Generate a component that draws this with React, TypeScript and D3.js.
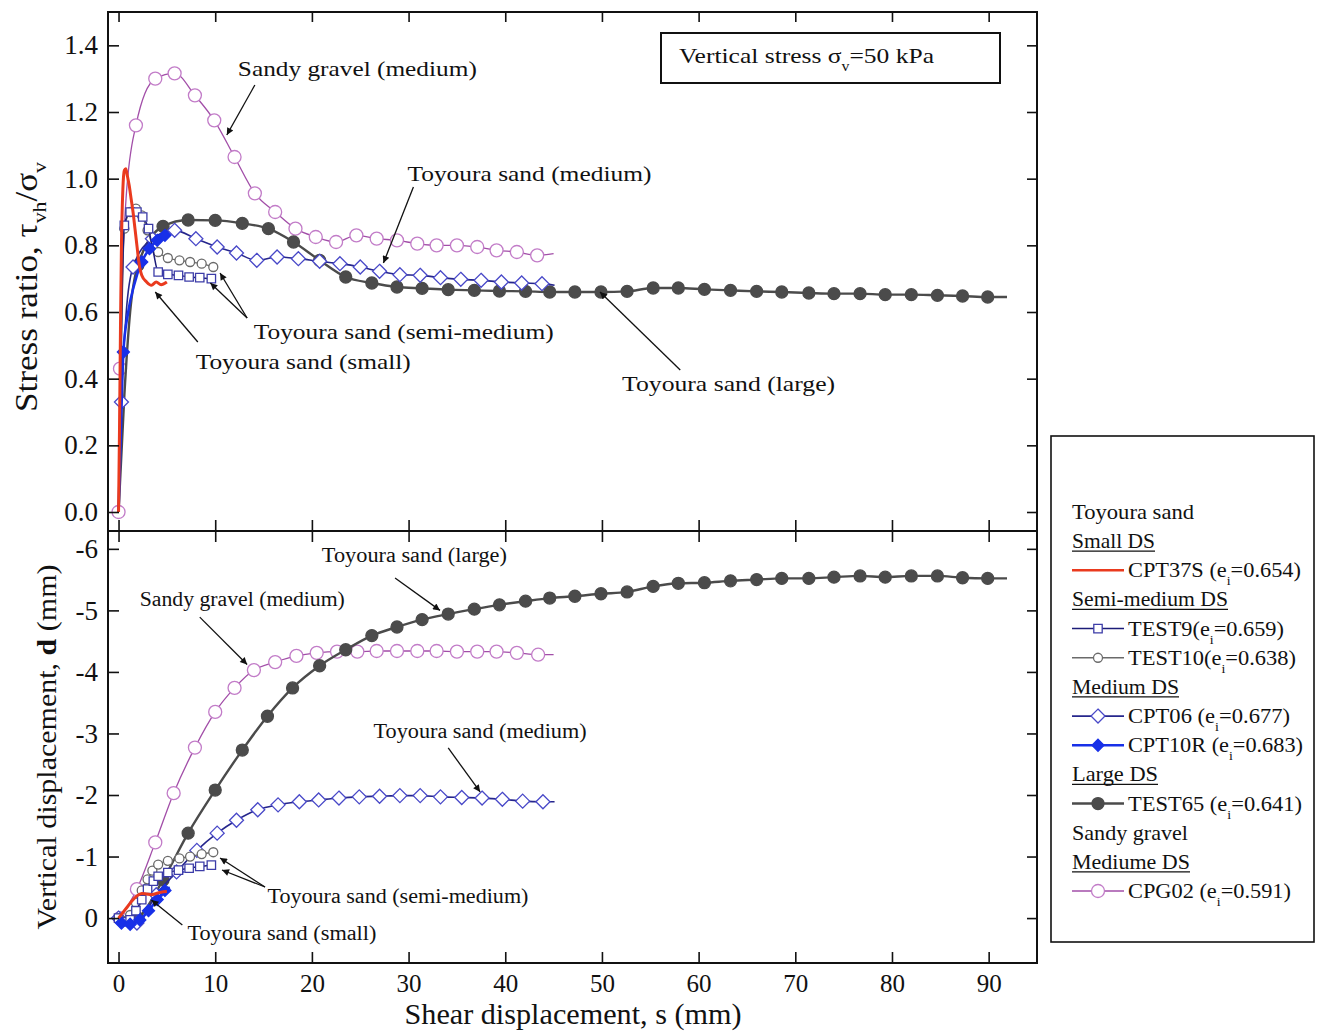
import React, { useEffect, useRef } from "react";
import * as d3 from "d3";

// [shear displacement (mm), value]; a third value of 0 = line point only, no marker
type Pt = number[];

// Toyoura sand, small DS (CPT37S)
const cpt37sStress: Pt[] = [[0, 0], [0.1, 0.25], [0.2, 0.55], [0.3, 0.8], [0.45, 0.97], [0.6, 1.025], [0.75, 1.03], [0.9, 1.01], [1.1, 0.98], [1.3, 0.94], [1.5, 0.9], [1.7, 0.85], [1.9, 0.8], [2.1, 0.75], [2.4, 0.71], [2.9, 0.69], [3.4, 0.68], [3.9, 0.69], [4.4, 0.682], [5.0, 0.69]];
const cpt37sDisp: Pt[] = [[0, 0], [0.4, -0.08], [0.9, -0.18], [1.4, -0.28], [1.9, -0.36], [2.4, -0.4], [2.9, -0.39], [3.4, -0.38], [3.9, -0.4], [4.4, -0.42], [5.0, -0.43]];

// Toyoura sand, semi-medium DS (TEST9, TEST10)
const test9Stress: Pt[] = [[0, 0, 0], [0.2, 0.35, 0], [0.4, 0.7, 0], [0.6, 0.86], [1.2, 0.9], [1.9, 0.9], [2.5, 0.885], [3.1, 0.85], [3.6, 0.78, 0], [4.1, 0.72], [5.1, 0.713], [6.2, 0.71], [7.3, 0.705], [8.4, 0.703], [9.6, 0.7]];
const test9Disp: Pt[] = [[0, 0], [0.6, 0.06], [1.2, 0.03], [1.8, -0.12], [2.4, -0.3], [3.0, -0.47], [3.6, -0.6], [4.1, -0.68], [5.1, -0.74], [6.2, -0.78], [7.3, -0.81], [8.4, -0.84], [9.6, -0.86]];
const test10Stress: Pt[] = [[0, 0, 0], [0.3, 0.5, 0], [0.6, 0.85], [1.2, 0.9], [1.8, 0.91], [2.4, 0.89], [3.0, 0.845], [3.5, 0.8, 0], [4.1, 0.78], [5.1, 0.762], [6.3, 0.755], [7.4, 0.75], [8.6, 0.745], [9.8, 0.735]];
const test10Disp: Pt[] = [[0, 0], [0.6, 0.05], [1.2, -0.05], [1.8, -0.25], [2.4, -0.45], [3.0, -0.63], [3.5, -0.77], [4.1, -0.87], [5.1, -0.93], [6.3, -0.97], [7.4, -1.0], [8.6, -1.04], [9.8, -1.07]];

// Toyoura sand, medium DS (CPT06, CPT10R)
const cpt06Stress: Pt[] = [[0, 0, 0], [0.3, 0.33], [0.8, 0.6, 0], [1.5, 0.735], [3.5, 0.82], [5.8, 0.845], [8.0, 0.82], [10.2, 0.795], [12.2, 0.777], [14.3, 0.755], [16.4, 0.765], [18.6, 0.76], [20.8, 0.752], [22.9, 0.745], [25.0, 0.735], [27.0, 0.722], [29.1, 0.712], [31.2, 0.71], [33.3, 0.703], [35.4, 0.698], [37.5, 0.695], [39.6, 0.69], [41.7, 0.687], [43.8, 0.685], [45.1, 0.68, 0]];
const cpt06Disp: Pt[] = [[0, 0], [1.9, 0.08], [3.9, -0.38], [6.0, -0.75], [8.1, -1.1], [10.2, -1.38], [12.2, -1.59], [14.4, -1.76], [16.5, -1.84], [18.7, -1.89], [20.7, -1.92], [22.8, -1.95], [24.9, -1.97], [27.0, -1.98], [29.1, -1.99], [31.2, -1.99], [33.3, -1.97], [35.5, -1.96], [37.6, -1.95], [39.7, -1.93], [41.8, -1.9], [43.9, -1.89], [45.1, -1.89, 0]];
const cpt10rStress: Pt[] = [[0, 0, 0], [0.2, 0.2, 0], [0.5, 0.48], [1.0, 0.6, 0], [1.6, 0.68, 0], [2.4, 0.75], [3.2, 0.79], [4.0, 0.815], [4.8, 0.83], [5.2, 0.835, 0]];
const cpt10rDisp: Pt[] = [[0, 0.05, 0], [0.3, 0.08], [1.2, 0.1], [2.2, 0.03], [3.1, -0.12], [4.0, -0.3], [4.8, -0.45], [5.3, -0.5, 0]];

// Toyoura sand, large DS (TEST65)
const test65Stress: Pt[] = [[0, 0, 0], [0.6, 0.35, 0], [1.2, 0.6, 0], [2.0, 0.74], [4.6, 0.857], [7.2, 0.876], [10.0, 0.875], [12.8, 0.866], [15.5, 0.85], [18.1, 0.81], [20.8, 0.755], [23.5, 0.705], [26.2, 0.687], [28.8, 0.675], [31.4, 0.671], [34.1, 0.667], [36.8, 0.665], [39.4, 0.663], [42.1, 0.662], [44.6, 0.66], [47.2, 0.66], [49.9, 0.66], [52.6, 0.662], [55.3, 0.672], [57.9, 0.672], [60.6, 0.668], [63.3, 0.665], [66.0, 0.662], [68.6, 0.66], [71.4, 0.657], [74.0, 0.655], [76.7, 0.655], [79.3, 0.652], [82.0, 0.652], [84.7, 0.65], [87.3, 0.648], [89.9, 0.645], [91.9, 0.645, 0]];
const test65Disp: Pt[] = [[0, 0, 0], [1.0, 0.06, 0], [2.0, 0.0], [4.6, -0.62], [7.2, -1.38], [10.0, -2.08], [12.8, -2.73], [15.4, -3.28], [18.0, -3.74], [20.8, -4.1], [23.5, -4.36], [26.2, -4.59], [28.8, -4.73], [31.4, -4.85], [34.1, -4.94], [36.8, -5.02], [39.4, -5.09], [42.1, -5.15], [44.6, -5.2], [47.2, -5.23], [49.9, -5.27], [52.6, -5.3], [55.3, -5.39], [57.9, -5.44], [60.6, -5.45], [63.3, -5.48], [66.0, -5.5], [68.6, -5.52], [71.4, -5.52], [74.0, -5.54], [76.7, -5.56], [79.3, -5.54], [82.0, -5.56], [84.7, -5.56], [87.3, -5.53], [89.9, -5.52], [91.9, -5.52, 0]];

// Sandy gravel, medium DS (CPG02)
const cpg02Stress: Pt[] = [[0, 0], [0.15, 0.43], [0.8, 0.95, 0], [1.8, 1.16], [3.8, 1.3], [5.8, 1.316], [7.9, 1.25], [9.9, 1.175], [12.0, 1.065], [14.1, 0.956], [16.2, 0.9], [18.3, 0.85], [20.4, 0.825], [22.5, 0.81], [24.6, 0.83], [26.7, 0.82], [28.8, 0.815], [30.9, 0.805], [32.9, 0.8], [35.0, 0.8], [37.1, 0.795], [39.1, 0.785], [41.2, 0.78], [43.3, 0.77], [45.0, 0.775, 0]];
const cpg02Disp: Pt[] = [[0.15, 0], [1.9, -0.47], [3.8, -1.23], [5.7, -2.03], [7.9, -2.77], [10.0, -3.35], [12.0, -3.74], [14.0, -4.03], [16.2, -4.16], [18.4, -4.26], [20.5, -4.31], [22.6, -4.33], [24.7, -4.33], [26.7, -4.34], [28.8, -4.34], [30.9, -4.34], [32.9, -4.34], [35.0, -4.33], [37.1, -4.33], [39.1, -4.33], [41.2, -4.31], [43.4, -4.28], [45.0, -4.28, 0]];

const xTicks = [0, 10, 20, 30, 40, 50, 60, 70, 80, 90];
const stressTicks = [0, 0.2, 0.4, 0.6, 0.8, 1.0, 1.2, 1.4];
const dispTicks = [-6, -5, -4, -3, -2, -1, 0];

const series = [
  { key: "CPG02", stress: cpg02Stress, disp: cpg02Disp, line: "#a24ea8", stroke: "#c27cc8", fill: "#ffffff", mark: "circle", r: 6.5, w: 1.3 },
  { key: "TEST65", stress: test65Stress, disp: test65Disp, line: "#4b4b4b", stroke: "#4b4b4b", fill: "#4b4b4b", mark: "circle", r: 6, w: 2.4 },
  { key: "CPT06", stress: cpt06Stress, disp: cpt06Disp, line: "#26268c", stroke: "#4848c8", fill: "#ffffff", mark: "diamond", r: 7, w: 1.6 },
  { key: "TEST10", stress: test10Stress, disp: test10Disp, line: "#6a6a6a", stroke: "#6a6a6a", fill: "#ffffff", mark: "circle", r: 4.5, w: 1.3 },
  { key: "TEST9", stress: test9Stress, disp: test9Disp, line: "#1c1c78", stroke: "#3c3ca8", fill: "#ffffff", mark: "square", r: 4.2, w: 1.5 },
  { key: "CPT10R", stress: cpt10rStress, disp: cpt10rDisp, line: "#1830e8", stroke: "#1830e8", fill: "#1830e8", mark: "diamond", r: 6, w: 2.6 },
  { key: "CPT37S", stress: cpt37sStress, disp: cpt37sDisp, line: "#ea3a1e", stroke: "none", fill: "none", mark: "none", r: 0, w: 3 },
];

// legend rows: plain text, underlined heading, or a series entry
const legendRows = [
  { kind: "text", text: "Toyoura sand", len: 122 },
  { kind: "head", text: "Small DS", len: 83 },
  { kind: "item", key: "CPT37S", text: "CPT37S (e", e: "=0.654)", len: 173 },
  { kind: "head", text: "Semi-medium DS", len: 156 },
  { kind: "item", key: "TEST9", text: "TEST9(e", e: "=0.659)", len: 156 },
  { kind: "item", key: "TEST10", text: "TEST10(e", e: "=0.638)", len: 168 },
  { kind: "head", text: "Medium DS", len: 107 },
  { kind: "item", key: "CPT06", text: "CPT06 (e", e: "=0.677)", len: 162 },
  { kind: "item", key: "CPT10R", text: "CPT10R (e", e: "=0.683)", len: 175 },
  { kind: "head", text: "Large DS", len: 86 },
  { kind: "item", key: "TEST65", text: "TEST65 (e", e: "=0.641)", len: 174 },
  { kind: "text", text: "Sandy gravel", len: 116 },
  { kind: "head", text: "Mediume DS", len: 118 },
  { kind: "item", key: "CPG02", text: "CPG02 (e", e: "=0.591)", len: 163 },
];

// labels with arrows; at = label centre/baseline, arrows = [from, tip], all in data units
const stressNotes = [
  { text: "Sandy gravel (medium)", at: [24.7, 1.308], len: 239, arrows: [[[14.1, 1.281], [11.2, 1.131]]] },
  { text: "Toyoura sand (medium)", at: [42.5, 0.993], len: 244, arrows: [[[30.5, 0.975], [27.4, 0.747]]] },
  { text: "Toyoura sand (semi-medium)", at: [29.5, 0.519], len: 300, arrows: [[[13.3, 0.582], [10.5, 0.717]], [[13.3, 0.582], [9.5, 0.687]]] },
  { text: "Toyoura sand (small)", at: [19.1, 0.429], len: 215, arrows: [[[8.2, 0.51], [3.8, 0.66]]] },
  { text: "Toyoura sand (large)", at: [63.1, 0.363], len: 213, arrows: [[[58.1, 0.426], [49.8, 0.66]]] },
];
const dispNotes = [
  { text: "Toyoura sand (large)", at: [30.6, -5.786], len: 185, arrows: [[[28.6, -5.526], [33.25, -5.0]]] },
  { text: "Sandy gravel (medium)", at: [12.8, -5.071], len: 205, arrows: [[[8.4, -4.89], [13.3, -4.12]]] },
  { text: "Toyoura sand (medium)", at: [37.4, -2.926], len: 213, arrows: [[[34.1, -2.764], [37.4, -2.05]]] },
  { text: "Toyoura sand (semi-medium)", at: [28.9, -0.245], len: 261, arrows: [[[15.15, -0.505], [10.5, -0.976]], [[15.15, -0.505], [10.7, -0.781]]] },
  { text: "Toyoura sand (small)", at: [16.9, 0.356], len: 189, arrows: [[[6.6, 0.113], [3.4, -0.294]]] },
];

const FONT = "'Liberation Serif', 'Times New Roman', serif";

type Part = { t: string; sub?: boolean; bold?: boolean };

function richText(parent: any, parts: Part[], size: number, subShift = 0.3) {
  const text = parent.append("text").attr("font-size", size);
  let low = false;
  parts.forEach((p) => {
    const ts = text.append("tspan").text(p.t);
    if (p.sub) {
      ts.attr("font-size", size * 0.62);
      if (!low) ts.attr("dy", size * subShift);
      low = true;
    } else if (low) {
      ts.attr("dy", -size * subShift);
      low = false;
    }
    if (p.bold) ts.attr("font-weight", "bold");
  });
  return text;
}

function markerPath(mark: string, r: number) {
  if (mark === "circle") return d3.symbol(d3.symbolCircle, Math.PI * r * r)();
  if (mark === "square") return d3.symbol(d3.symbolSquare, 4 * r * r)();
  if (mark === "diamond") return `M0,${-r}L${r},0L0,${r}L${-r},0Z`;
  return "";
}

export default function App() {
  const ref = useRef<SVGSVGElement>(null);

  useEffect(() => {
    const svg = d3.select(ref.current);
    svg.selectAll("*").remove();
    svg.attr("font-family", FONT);

    const L = 108, R = 1037, T = 12, MID = 531, B = 963;

    const x = d3.scaleLinear().domain([-1.09, 95.0]).range([L, R]);
    const yS = d3.scaleLinear().domain([-0.057, 1.5]).range([MID, T]);
    const yD = d3.scaleLinear().domain([0.73, -6.29]).range([B, MID]);

    svg.append("rect").attr("width", 1319).attr("height", 1032).attr("fill", "#fff");

    svg.append("defs").append("marker")
      .attr("id", "arr")
      .attr("viewBox", "0 0 10 10")
      .attr("refX", 10).attr("refY", 5)
      .attr("markerWidth", 11).attr("markerHeight", 7)
      .attr("markerUnits", "userSpaceOnUse")
      .attr("orient", "auto")
      .append("path").attr("d", "M0,0L10,5L0,10Z").attr("fill", "#111");

    // series
    const panels: [string, any][] = [["stress", yS], ["disp", yD]];
    panels.forEach(([field, y]) => {
      const g = svg.append("g");
      series.forEach((s: any) => {
        const data: Pt[] = s[field];
        const line = d3.line<Pt>().x((d) => x(d[0])).y((d) => y(d[1])).curve(d3.curveMonotoneX);
        g.append("path")
          .attr("d", line(data))
          .attr("fill", "none")
          .attr("stroke", s.line)
          .attr("stroke-width", s.w)
          .attr("stroke-linejoin", "round");
        if (s.mark !== "none") {
          g.selectAll(null)
            .data(data.filter((d) => d[2] !== 0))
            .join("path")
            .attr("transform", (d) => `translate(${x(d[0])},${y(d[1])})`)
            .attr("d", markerPath(s.mark, s.r))
            .attr("fill", s.fill)
            .attr("stroke", s.stroke)
            .attr("stroke-width", 1.3);
        }
      });
    });

    // frame and axes
    const axes = svg.append("g");
    axes.append("rect").attr("x", L).attr("y", T).attr("width", R - L).attr("height", B - T)
      .attr("fill", "none").attr("stroke", "#111").attr("stroke-width", 2);
    axes.append("line").attr("x1", L).attr("x2", R).attr("y1", MID).attr("y2", MID)
      .attr("stroke", "#111").attr("stroke-width", 2);

    const style = (sel: any, size: number) => {
      sel.select(".domain").remove();
      sel.selectAll(".tick line").attr("stroke", "#111").attr("stroke-width", 1.6);
      sel.selectAll(".tick text").attr("font-family", FONT).attr("font-size", size).attr("fill", "#111");
    };

    axes.append("g").attr("transform", `translate(0,${B})`)
      .call(d3.axisBottom(x).tickValues(xTicks).tickSizeInner(-11).tickSizeOuter(0).tickPadding(11))
      .call((s: any) => style(s, 25));
    axes.append("g").attr("transform", `translate(0,${T})`)
      .call(d3.axisTop(x).tickValues(xTicks).tickSizeInner(-10).tickSizeOuter(0).tickFormat(() => ""))
      .call((s: any) => style(s, 0));
    axes.append("g").attr("transform", `translate(0,${MID})`)
      .call(d3.axisTop(x).tickValues(xTicks).tickSizeInner(11).tickSizeOuter(0).tickFormat(() => ""))
      .call((s: any) => style(s, 0));
    axes.append("g").attr("transform", `translate(0,${MID})`)
      .call(d3.axisBottom(x).tickValues(xTicks).tickSizeInner(11).tickSizeOuter(0).tickFormat(() => ""))
      .call((s: any) => style(s, 0));

    axes.append("g").attr("transform", `translate(${L},0)`)
      .call(d3.axisLeft(yS).tickValues(stressTicks).tickSizeInner(-11).tickSizeOuter(0).tickPadding(10).tickFormat(d3.format(".1f")))
      .call((s: any) => style(s, 27));
    axes.append("g").attr("transform", `translate(${L},0)`)
      .call(d3.axisLeft(yD).tickValues(dispTicks).tickSizeInner(-11).tickSizeOuter(0).tickPadding(10).tickFormat((d: any) => String(d)))
      .call((s: any) => style(s, 27));
    axes.append("g").attr("transform", `translate(${R},0)`)
      .call(d3.axisRight(yS).tickValues(stressTicks).tickSizeInner(-10).tickSizeOuter(0).tickFormat(() => ""))
      .call((s: any) => style(s, 0));
    axes.append("g").attr("transform", `translate(${R},0)`)
      .call(d3.axisRight(yD).tickValues(dispTicks).tickSizeInner(-10).tickSizeOuter(0).tickFormat(() => ""))
      .call((s: any) => style(s, 0));

    // axis titles
    svg.append("text").attr("x", 573).attr("y", 1024).attr("text-anchor", "middle")
      .attr("font-size", 30).attr("textLength", 337).attr("lengthAdjust", "spacingAndGlyphs")
      .attr("fill", "#111").text("Shear displacement, s (mm)");

    const t1 = svg.append("g").attr("transform", "translate(37,287) rotate(-90)");
    richText(t1, [{ t: "Stress ratio, τ" }, { t: "vh", sub: true }, { t: "/σ" }, { t: "v", sub: true }], 31)
      .attr("text-anchor", "middle").attr("fill", "#111")
      .attr("textLength", 250).attr("lengthAdjust", "spacingAndGlyphs");

    const t2 = svg.append("g").attr("transform", "translate(56,747) rotate(-90)");
    richText(t2, [{ t: "Vertical displacement, " }, { t: "d", bold: true }, { t: " (mm)" }], 28)
      .attr("text-anchor", "middle").attr("fill", "#111")
      .attr("textLength", 365).attr("lengthAdjust", "spacingAndGlyphs");

    // annotations
    const notes = svg.append("g");
    const drawNotes = (list: any[], y: any, size: number) => {
      list.forEach((n) => {
        notes.append("text")
          .attr("x", x(n.at[0])).attr("y", y(n.at[1]))
          .attr("text-anchor", "middle").attr("font-size", size).attr("fill", "#111")
          .attr("textLength", n.len).attr("lengthAdjust", "spacingAndGlyphs")
          .text(n.text);
        n.arrows.forEach((a: number[][]) => {
          notes.append("line")
            .attr("x1", x(a[0][0])).attr("y1", y(a[0][1]))
            .attr("x2", x(a[1][0])).attr("y2", y(a[1][1]))
            .attr("stroke", "#111").attr("stroke-width", 1.3)
            .attr("marker-end", "url(#arr)");
        });
      });
    };
    drawNotes(stressNotes, yS, 22);
    drawNotes(dispNotes, yD, 20);

    // vertical stress box
    svg.append("rect").attr("x", 661).attr("y", 33).attr("width", 339).attr("height", 50)
      .attr("fill", "#fff").attr("stroke", "#111").attr("stroke-width", 2);
    richText(svg.append("g"), [{ t: "Vertical stress σ" }, { t: "v", sub: true }, { t: "=50 kPa" }], 22, 0.35)
      .attr("x", 679).attr("y", 63).attr("fill", "#111")
      .attr("textLength", 255).attr("lengthAdjust", "spacingAndGlyphs");

    // legend
    const lg = svg.append("g");
    lg.append("rect").attr("x", 1051).attr("y", 436).attr("width", 263).attr("height", 506)
      .attr("fill", "#fff").attr("stroke", "#111").attr("stroke-width", 1.6);
    const rowY = d3.scaleLinear().domain([0, legendRows.length - 1]).range([519, 898]);
    legendRows.forEach((row: any, i) => {
      const by = rowY(i);
      if (row.kind === "item") {
        const s: any = series.find((d) => d.key === row.key);
        lg.append("line").attr("x1", 1072).attr("x2", 1124).attr("y1", by - 7).attr("y2", by - 7)
          .attr("stroke", s.line).attr("stroke-width", Math.min(s.w, 2.4));
        if (s.mark !== "none") {
          lg.append("path").attr("transform", `translate(1098,${by - 7})`)
            .attr("d", markerPath(s.mark, s.r))
            .attr("fill", s.fill).attr("stroke", s.stroke).attr("stroke-width", 1.3);
        }
        richText(lg, [{ t: row.text }, { t: "i", sub: true }, { t: row.e }], 21, 0.38)
          .attr("x", 1128).attr("y", by).attr("fill", "#111")
          .attr("textLength", row.len).attr("lengthAdjust", "spacingAndGlyphs");
      } else {
        lg.append("text").attr("x", 1072).attr("y", by).attr("font-size", 21).attr("fill", "#111")
          .attr("textLength", row.len).attr("lengthAdjust", "spacingAndGlyphs")
          .text(row.text);
        if (row.kind === "head") {
          lg.append("line").attr("x1", 1072).attr("x2", 1072 + row.len).attr("y1", by + 3).attr("y2", by + 3)
            .attr("stroke", "#111").attr("stroke-width", 1.2);
        }
      }
    });
  }, []);

  return (
    <svg
      ref={ref}
      width={1319}
      height={1032}
      style={{ position: "absolute", left: 0, top: 0, display: "block" }}
    />
  );
}
